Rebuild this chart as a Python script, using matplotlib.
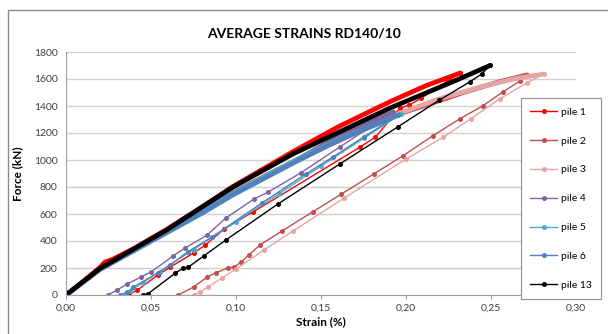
import matplotlib
matplotlib.use("Agg")
import matplotlib.pyplot as plt
from matplotlib.patches import Rectangle

plt.rcParams['font.family'] = ['Lato', 'DejaVu Sans']

# loading (dense) and unloading (sparse) branches per pile, strain in %, force in kN
pile1_load_s = [0, 0.010, 0.020, 0.023, 0.027, 0.040, 0.059, 0.080, 0.098, 0.1335, 0.160, 0.1906, 0.212, 0.232]
pile1_load_f = [0, 100, 205, 245, 262, 345, 484, 652, 802, 1062, 1245, 1432, 1552, 1645]
pile1_unl_s = [0.232, 0.224, 0.209, 0.202, 0.1965, 0.182, 0.173, 0.110, 0.093, 0.082, 0.075, 0.0614, 0.054, 0.042, 0.037]
pile1_unl_f = [1645, 1580, 1459, 1407, 1385, 1170, 1096, 615, 489, 370, 311, 207, 148, 37, 0]

pile2_load_s = [0, 0.020, 0.059, 0.098, 0.1335, 0.165, 0.197, 0.215, 0.235, 0.255, 0.271]
pile2_load_f = [0, 190, 465, 755, 985, 1170, 1345, 1420, 1505, 1580, 1630]
pile2_unl_s = [0.271, 0.267, 0.257, 0.245, 0.2315, 0.2156, 0.198, 0.181, 0.162, 0.145, 0.127, 0.114,
               0.1075, 0.103, 0.099, 0.095, 0.088, 0.083, 0.075, 0.066]
pile2_unl_f = [1630, 1585, 1504, 1400, 1304, 1178, 1030, 896, 748, 615, 474, 370,
               296, 244, 207, 200, 163, 133, 59, 0]

pile3_load_s = [0, 0.020, 0.059, 0.098, 0.1335, 0.165, 0.197, 0.220, 0.245, 0.265, 0.281]
pile3_load_f = [0, 190, 465, 760, 990, 1180, 1350, 1455, 1545, 1605, 1637]
pile3_unl_s = [0.281, 0.271, 0.255, 0.238, 0.222, 0.200, 0.1636, 0.1335, 0.1164, 0.100, 0.092, 0.0835, 0.079, 0.0755]
pile3_unl_f = [1637, 1570, 1452, 1304, 1170, 1007, 718, 474, 333, 192, 128, 59, 22, 0]

pile4_load_s = [0, 0.020, 0.059, 0.098, 0.1335, 0.161, 0.1925]
pile4_load_f = [0, 190, 465, 755, 985, 1180, 1356]
pile4_unl_s = [0.1925, 0.161, 0.138, 0.119, 0.1105, 0.094, 0.083, 0.070, 0.063, 0.050, 0.044, 0.036, 0.030, 0.0248]
pile4_unl_f = [1356, 1096, 904, 763, 710, 570, 444, 348, 289, 170, 133, 81, 37, 0]

pile5_load_s = [0, 0.020, 0.059, 0.080, 0.098, 0.1318, 0.160, 0.197]
pile5_load_f = [0, 192, 462, 610, 748, 975, 1150, 1340]
pile5_unl_s = [0.197, 0.175, 0.150, 0.125, 0.100, 0.075, 0.055, 0.045, 0.038, 0.034]
pile5_unl_f = [1340, 1160, 955, 748, 543, 337, 173, 90, 33, 0]

pile6_load_s = [0, 0.020, 0.059, 0.080, 0.098, 0.1318, 0.160, 0.1955]
pile6_load_f = [0, 192, 460, 605, 740, 965, 1145, 1333]
pile6_unl_s = [0.1955, 0.175, 0.157, 0.141, 0.115, 0.086, 0.0715, 0.0614, 0.054, 0.0396, 0.036, 0.032]
pile6_unl_f = [1333, 1170, 1022, 896, 680, 430, 319, 222, 163, 59, 22, 0]

pile13_load_s = [0, 0.020, 0.059, 0.098, 0.1335, 0.1906, 0.230, 0.2494]
pile13_load_f = [0, 197, 480, 798, 1045, 1385, 1593, 1700]
pile13_unl_s = [0.2494, 0.2445, 0.2374, 0.2197, 0.195, 0.161, 0.1246, 0.094, 0.081, 0.072, 0.069, 0.0644, 0.048, 0.045]
pile13_unl_f = [1700, 1637, 1578, 1444, 1244, 970, 674, 407, 289, 207, 200, 163, 7, 0]

piles = [
    ('pile 1', '#FF0000', pile1_load_s, pile1_load_f, pile1_unl_s, pile1_unl_f),
    ('pile 2', '#C0504D', pile2_load_s, pile2_load_f, pile2_unl_s, pile2_unl_f),
    ('pile 3', '#E6A5A3', pile3_load_s, pile3_load_f, pile3_unl_s, pile3_unl_f),
    ('pile 4', '#8064A2', pile4_load_s, pile4_load_f, pile4_unl_s, pile4_unl_f),
    ('pile 5', '#4BACC6', pile5_load_s, pile5_load_f, pile5_unl_s, pile5_unl_f),
    ('pile 6', '#4F81BD', pile6_load_s, pile6_load_f, pile6_unl_s, pile6_unl_f),
    ('pile 13', '#000000', pile13_load_s, pile13_load_f, pile13_unl_s, pile13_unl_f),
]

fig = plt.figure(figsize=(6.08, 3.34), dpi=100)
ax = fig.add_axes([66/608, 39/334, 510/608, 243/334])

for name, col, ls, lf, us, uf in piles:
    # loading branch drawn thick (dense logger readings), unloading thin with markers
    ax.plot(ls, lf, color=col, lw=3.4, solid_capstyle='round', solid_joinstyle='round', zorder=2)
    ax.plot(us, uf, color=col, lw=1, marker='o', ms=2.6, label=name, zorder=2)

ax.set_xlim(0, 0.30)
ax.set_ylim(0, 1800)
ax.set_xticks([0, 0.05, 0.10, 0.15, 0.20, 0.25, 0.30])
ax.set_xticklabels(['0,00', '0,05', '0,10', '0,15', '0,20', '0,25', '0,30'])
ax.set_yticks(range(0, 1801, 200))
ax.tick_params(labelsize=7.5, labelcolor='#404040', colors='#A0A0A0', length=3)
ax.tick_params(axis='y', length=0, pad=6)
ax.grid(axis='y', color='#D0D0D0', lw=1)
ax.set_axisbelow(True)
for side in ['top', 'right']:
    ax.spines[side].set_visible(False)
for side in ['left', 'bottom']:
    ax.spines[side].set_color('#A0A0A0')

ax.set_xlabel('Strain (%)', fontsize=8.5, fontweight='bold', labelpad=2)
ax.set_ylabel('Force (kN)', fontsize=8.5, fontweight='bold', labelpad=8)
fig.text(304/608, 1 - 33/334, 'AVERAGE STRAINS RD140/10', ha='center', va='center',
         fontsize=10, fontweight='bold')

leg = fig.legend(loc='upper left', bbox_to_anchor=(521/608, 1 - 98/334), fontsize=7.5,
                 frameon=True, fancybox=False, edgecolor='#909090', framealpha=1,
                 labelspacing=1.88, handlelength=2.6, handletextpad=0.3,
                 borderpad=0.9, borderaxespad=0)
leg.get_frame().set_linewidth(0.8)

# outer chart border
fig.patches.append(Rectangle((8/608, -0.05), 1.0, 1 - 10/334 + 0.05, transform=fig.transFigure,
                             fill=False, edgecolor='#8A8A8A', lw=1))

fig.savefig('out.png', dpi=100)
